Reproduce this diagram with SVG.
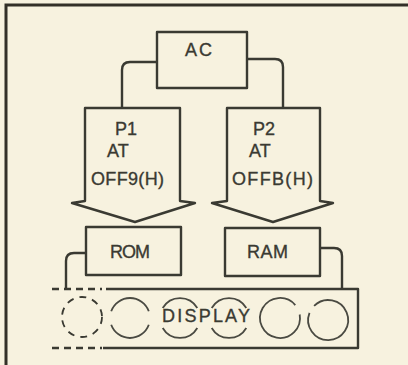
<svg xmlns="http://www.w3.org/2000/svg" width="408" height="365" viewBox="0 0 408 365">
<style>
.ln{fill:none;stroke:#3a3a32;stroke-width:2.4;stroke-linejoin:round}
.bx{fill:#f7f2df;stroke:#3a3a32;stroke-width:2.4;stroke-linejoin:round}
.ds{fill:none;stroke:#3a3a32;stroke-width:2.4;stroke-dasharray:7,5}
.ci{fill:none;stroke:#4a4a42;stroke-width:1.8}
.t{font-family:"Liberation Sans",Arial,sans-serif;font-size:18px;fill:#3a3a32;stroke:#3a3a32;stroke-width:0.35}
</style>
<rect x="0" y="0" width="408" height="365" fill="#f7f2df"/>
<g id="frame">
<path d="M6,365 V5 H408" fill="none" stroke="#333028" stroke-width="3"/>
</g>
<g id="connectors">
<path class="ln" d="M157,62 H130 Q122,62 122,70 V108"/>
<path class="ln" d="M247,59 H275 Q283,59 283,67 V108"/>
<path class="ln" d="M86,253 H74 Q66,253 66,261 V289"/>
<path class="ln" d="M320,248 H334 Q342,248 342,256 V290"/>
</g>
<g id="AC">
<rect class="bx" x="157" y="32" width="90" height="56"/>
<text class="t" x="185" y="56" textLength="27" lengthAdjust="spacing">AC</text>
</g>
<g id="P1">
<path class="bx" d="M85,108 H180 V201 L195,203 L135,222 L72,203 L85,201 Z"/>
<text class="t" x="115" y="135">P1</text>
<text class="t" x="107" y="157">AT</text>
<text class="t" x="91" y="185" textLength="73" lengthAdjust="spacing">OFF9(H)</text>
</g>
<g id="P2">
<path class="bx" d="M227,108 H320 V201 L333,203 L273,222 L212,203 L227,201 Z"/>
<text class="t" x="253" y="135">P2</text>
<text class="t" x="249" y="157">AT</text>
<text class="t" x="232" y="185" textLength="81" lengthAdjust="spacing">OFFB(H)</text>
</g>
<g id="ROM">
<rect class="bx" x="86" y="227" width="95" height="48"/>
<text class="t" x="110" y="258" textLength="40" lengthAdjust="spacing">ROM</text>
</g>
<g id="RAM">
<rect class="bx" x="225" y="228" width="95" height="48"/>
<text class="t" x="247" y="258" textLength="41" lengthAdjust="spacing">RAM</text>
</g>
<g id="display">
<path class="ln" d="M106,289 H358 V348 H103"/>
<path class="ds" d="M52,289 H102 M52,348 H102"/>
<circle cx="82" cy="317" r="20" fill="none" stroke="#3a3a32" stroke-width="1.8" stroke-dasharray="7,6"/>
<path class="ci" d="M111.2,311.2 A20,20 0 0 1 148.8,311.2 M148.8,324.8 A20,20 0 0 1 111.2,324.8"/>
<path class="ci" d="M162.7,308 A20,20 0 0 1 197.3,308 M197.3,328 A20,20 0 0 1 162.7,328"/>
<path class="ci" d="M211.7,308 A20,20 0 0 1 246.3,308 M246.3,328 A20,20 0 0 1 211.7,328"/>
<path class="ci" d="M295.3,305.1 A20,20 0 1 0 299.7,314.5"/>
<path class="ci" d="M314.1,305.8 A20,20 0 1 1 309.5,312.8"/>
<text class="t" x="162" y="322" textLength="88" lengthAdjust="spacing">DISPLAY</text>
</g>
</svg>
